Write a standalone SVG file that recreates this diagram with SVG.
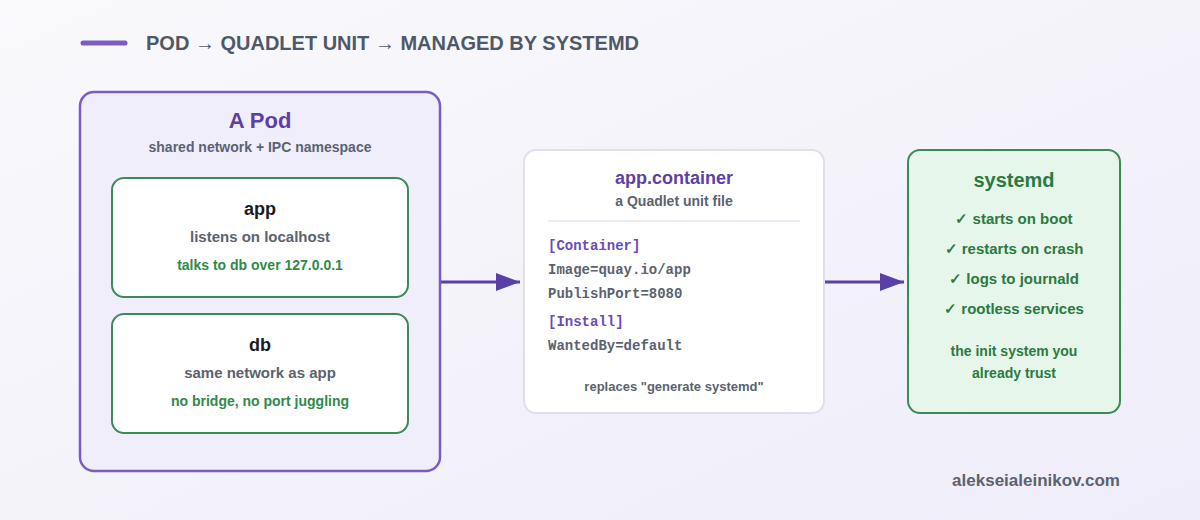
<svg xmlns="http://www.w3.org/2000/svg" width="1200" height="520" viewBox="0 0 1200 520">
<defs>
<linearGradient id="bg" x1="0" y1="0" x2="1" y2="1">
<stop offset="0" stop-color="#f9f9fc"/>
<stop offset="1" stop-color="#efedf9"/>
</linearGradient>
<marker id="arrow" markerWidth="8" markerHeight="6" refX="8" refY="3" orient="auto" markerUnits="strokeWidth">
<path d="M0,0 L8,3 L0,6 Z" fill="#5b3fa8"/>
</marker>
<style>
.t{font-family:"Liberation Sans",Arial,sans-serif;font-weight:bold;text-anchor:middle}
.gray{fill:#5b6270}
.green{fill:#2f8a4a}
.dgreen{fill:#2a7a42}
.purple{fill:#5d3fa6}
.mono{font-family:"Liberation Mono","Courier New",monospace;font-weight:bold;font-size:14px}
.inner{fill:#ffffff;stroke:#3d8a56;stroke-width:2}
.conn{stroke:#5b3fa8;stroke-width:3;fill:none}
</style>
</defs>
<rect width="1200" height="520" fill="url(#bg)"/>
<g id="title">
<line x1="83" y1="43" x2="125" y2="43" stroke="#7c5cc4" stroke-width="5" stroke-linecap="round"/>
<text x="146" y="50" class="t" style="text-anchor:start;font-size:20px" fill="#4f5866">POD → QUADLET UNIT → MANAGED BY SYSTEMD</text>
</g>
<g id="pod">
<rect x="80" y="92" width="360" height="379" rx="14" fill="#f1eefc" stroke="#7c5cc4" stroke-width="2.5"/>
<text x="260" y="128" class="t purple" font-size="22">A Pod</text>
<text x="260" y="152" class="t gray" font-size="14">shared network + IPC namespace</text>
</g>
<g id="app">
<rect x="112" y="178" width="296" height="119" rx="12" class="inner"/>
<text x="260" y="215" class="t" font-size="18" fill="#1a1a24">app</text>
<text x="260" y="242" class="t gray" font-size="15">listens on localhost</text>
<text x="260" y="270" class="t green" font-size="14">talks to db over 127.0.0.1</text>
</g>
<g id="db">
<rect x="112" y="314" width="296" height="119" rx="12" class="inner"/>
<text x="260" y="351" class="t" font-size="18" fill="#1a1a24">db</text>
<text x="260" y="378" class="t gray" font-size="15">same network as app</text>
<text x="260" y="406" class="t green" font-size="14">no bridge, no port juggling</text>
</g>
<g id="unit">
<rect x="524" y="150" width="300" height="263" rx="12" fill="#ffffff" stroke="#e2def0" stroke-width="2"/>
<text x="674" y="184" class="t purple" font-size="18">app.container</text>
<text x="674" y="206" class="t gray" font-size="14">a Quadlet unit file</text>
<line x1="548" y1="221" x2="800" y2="221" stroke="#ebe9f2" stroke-width="2"/>
<text x="548" y="250" class="mono" fill="#6a4cb8">[Container]</text>
<text x="548" y="274" class="mono gray">Image=quay.io/app</text>
<text x="548" y="298" class="mono gray">PublishPort=8080</text>
<text x="548" y="326" class="mono" fill="#6a4cb8">[Install]</text>
<text x="548" y="350" class="mono gray">WantedBy=default</text>
<text x="674" y="391" class="t gray" font-size="13">replaces "generate systemd"</text>
</g>
<g id="systemd">
<rect x="908" y="150" width="212" height="263" rx="12" fill="#e7f6eb" stroke="#3d8a56" stroke-width="2"/>
<text x="1014" y="187" class="t dgreen" font-size="20">systemd</text>
<text x="1014" y="224" class="t dgreen" font-size="15">✓ starts on boot</text>
<text x="1014" y="254" class="t dgreen" font-size="15">✓ restarts on crash</text>
<text x="1014" y="284" class="t dgreen" font-size="15">✓ logs to journald</text>
<text x="1014" y="314" class="t dgreen" font-size="15">✓ rootless services</text>
<text x="1014" y="356" class="t dgreen" font-size="14">the init system you</text>
<text x="1014" y="378" class="t dgreen" font-size="14">already trust</text>
</g>
<g id="connectors">
<line x1="441" y1="282" x2="520" y2="282" class="conn" marker-end="url(#arrow)"/>
<line x1="825" y1="282" x2="904" y2="282" class="conn" marker-end="url(#arrow)"/>
</g>
<g id="footer">
<text x="1120" y="486" class="t" style="text-anchor:end;font-size:17px" fill="#5b6270">alekseialeinikov.com</text>
</g>
</svg>
